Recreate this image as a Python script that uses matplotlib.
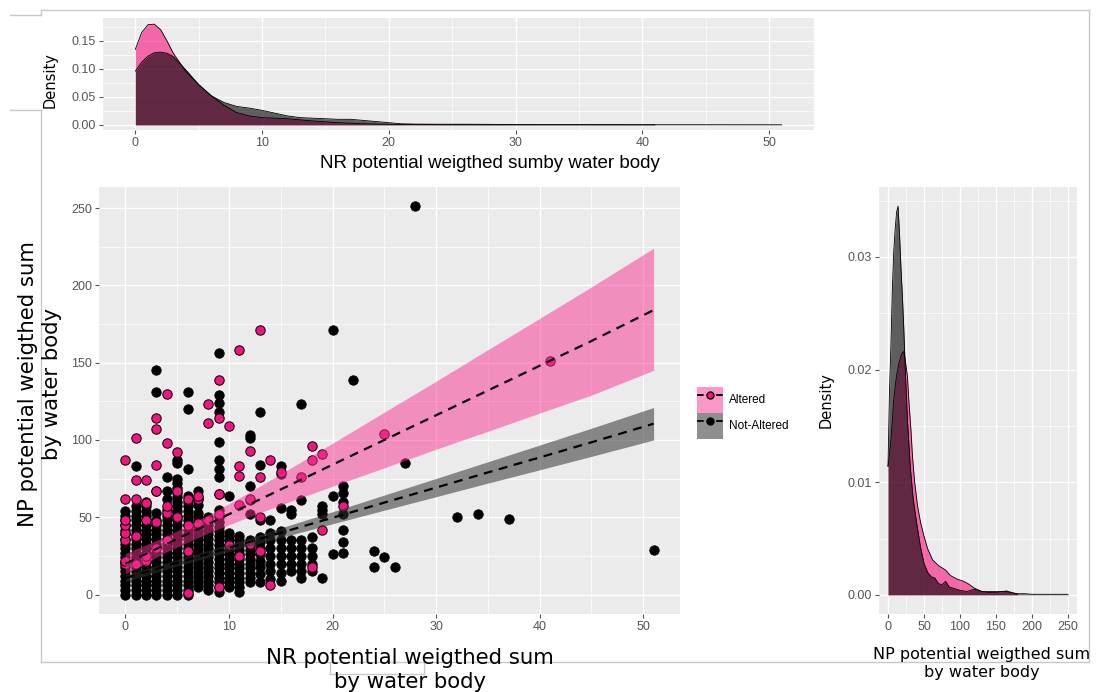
import matplotlib
matplotlib.use('Agg')
import matplotlib.pyplot as plt
from matplotlib.lines import Line2D
from matplotlib.patches import Patch
from matplotlib.legend_handler import HandlerTuple
from matplotlib.ticker import MultipleLocator, FormatStrFormatter

plt.rcParams['font.family'] = ['Liberation Sans', 'DejaVu Sans']

# scatter: x value -> list of y values
not_altered = {
    0: [0, 3, 6, 9, 12, 15, 18, 21, 24, 27, 30, 33, 36, 39, 42, 45, 48, 51, 54],
    1: [0, 3, 6, 9, 12, 15, 18, 21, 24, 27, 30, 33, 36, 39, 42, 45, 48, 51, 54, 57, 83],
    2: [0, 3, 6, 9, 12, 15, 18, 21, 24, 27, 30, 33, 36, 39, 42, 45, 48, 51, 54, 57, 60],
    3: [0, 3, 6, 9, 12, 15, 18, 21, 24, 27, 30, 33, 36, 39, 42, 45, 48, 53, 67, 131, 145],
    4: [0, 3, 6, 9, 12, 15, 18, 21, 24, 27, 30, 33, 36, 39, 42, 45, 48, 51, 55, 62, 67, 76],
    5: [0, 3, 6, 9, 12, 15, 18, 21, 24, 27, 30, 33, 36, 39, 42, 45, 48, 51, 54, 57, 60, 63, 66, 69, 72, 75, 85, 87],
    6: [0, 3, 6, 9, 12, 15, 18, 21, 24, 27, 30, 33, 36, 39, 42, 45, 48, 51, 54, 57, 60, 64, 81, 120, 131],
    7: [5, 8, 11, 14, 17, 20, 23, 26, 29, 32, 35, 38, 41, 44, 47, 50, 53, 58, 62, 67],
    8: [3, 6, 9, 12, 15, 18, 21, 24, 27, 30, 33, 36, 39, 42, 45, 50],
    9: [2, 5, 8, 11, 14, 17, 20, 23, 26, 29, 32, 35, 38, 41, 44, 47, 50, 55, 65, 76, 81, 87, 99, 118, 124, 129, 156],
    10: [5, 8, 11, 14, 17, 20, 23, 26, 29, 32, 35, 38, 40, 64],
    11: [2, 5, 8, 11, 14, 17, 20, 23, 26, 29, 32, 35, 38],
    12: [8, 11, 14, 17, 20, 23, 26, 29, 32, 35, 52, 61, 70, 101, 103],
    13: [8, 13, 18, 22, 26, 30, 34, 37, 48, 84, 118],
    14: [10, 15, 20, 25, 30, 35, 40, 48],
    15: [9, 14, 20, 25, 30, 35, 41, 56, 78, 83],
    16: [15, 20, 25, 30, 35, 52, 55],
    17: [11, 15, 20, 25, 30, 35, 61, 123],
    18: [15, 20, 25, 30, 37],
    19: [11, 52, 55, 57],
    20: [26, 64, 171],
    21: [27, 34, 42, 52, 60, 66, 70],
    22: [139],
    24: [18, 28],
    25: [24],
    26: [18],
    27: [85],
    28: [251],
    32: [50],
    34: [52],
    37: [49],
    51: [29],
}
altered = {
    0: [20, 22, 35, 40, 45, 48, 62, 87],
    1: [20, 38, 62, 74, 101],
    2: [22, 25, 48, 59, 74],
    3: [30, 47, 67, 84, 107, 114],
    4: [35, 53, 57, 98, 130],
    5: [50, 67, 92],
    6: [1, 28, 45, 62],
    7: [46, 62, 64],
    8: [48, 111, 123],
    9: [5, 52, 65, 114, 139],
    10: [32, 109],
    11: [25, 58, 77, 83, 158],
    12: [33, 62, 93],
    13: [28, 50, 76, 171],
    14: [6, 87],
    15: [79],
    17: [76],
    18: [18, 87, 96],
    19: [42, 91],
    21: [57],
    25: [104],
    41: [151],
}

# fitted lines with confidence bands
alt_fit_x = [0, 4, 8, 12, 16, 20, 25, 30, 35, 40, 45, 51]
alt_fit_y = [20, 32.8, 45.6, 58.4, 71.2, 84, 100, 116, 132, 148, 164, 184]
alt_fit_lo = [13.4, 27.7, 39.8, 50.5, 60.4, 70.1, 82, 94, 105.6, 117.4, 129, 145]
alt_fit_hi = [26.6, 37.9, 51.4, 66.3, 82.0, 97.9, 118, 138, 158.4, 178.6, 199, 224]
na_fit_x = [0, 5, 10, 15, 20, 25, 30, 35, 40, 45, 51]
na_fit_y = [10.7, 20.5, 30.2, 40, 49.7, 59.5, 69.2, 79, 88.7, 98.5, 110.5]
na_fit_lo = [8.3, 18.5, 27.8, 36.9, 45.8, 54.6, 63.3, 72.1, 80.7, 89.4, 100]
na_fit_hi = [13.1, 22.5, 32.6, 43.1, 53.6, 64.4, 75.1, 85.9, 96.7, 107.6, 121]

# density of NR (top)
nr_alt_x = [0, 0.5, 1, 1.5, 2, 2.5, 3, 4, 5, 6, 7, 8, 9, 10, 11, 12, 13, 14, 16, 18, 20, 22, 25, 30, 35, 41]
nr_alt_d = [.135, .165, .179, .180, .170, .150, .128, .095, .072, .052, .035, .022, .016, .013, .012,
            .011, .009, .007, .004, .002, .001, .0005, .0003, .0002, .0002, .0001]
nr_na_x = [0, 0.5, 1, 1.5, 2, 2.5, 3, 4, 5, 6, 7, 8, 9, 10, 11, 12, 13, 14, 15, 16, 17, 18, 19, 20,
           21, 22, 24, 26, 28, 30, 35, 40, 45, 51]
nr_na_d = [.096, .112, .123, .129, .130, .128, .122, .098, .072, .052, .040, .033, .030, .026, .021,
           .016, .013, .012, .011, .010, .010, .008, .006, .004, .002, .0015, .0012, .0012, .001,
           .0005, .0004, .0003, .0003, .0002]

# density of NP (right), in 1/1000
np_alt_x = [0, 2, 4, 6, 8, 10, 12, 15, 18, 20, 22, 24, 27, 29, 32, 34, 37, 41, 45, 50, 55, 62, 70,
            80, 87, 96, 105, 111, 120, 130, 140, 150, 160, 170, 180]
np_alt_d = [11.4, 12.5, 13.7, 15.5, 17.3, 18.5, 19.5, 20.5, 21.2, 21.5, 21.6, 20.8, 19.4, 17.2, 14.5,
            12.3, 10, 7.9, 6.5, 5.2, 4.1, 3.1, 2.6, 2.2, 1.7, 1.4, 1.2, 1.0, 0.6, 0.3, 0.3, 0.3, 0.3,
            0.25, 0.05]
np_na_x = [0, 2, 4, 6, 8, 10, 12, 14, 16, 18, 20, 22, 24, 27, 31, 35, 40, 45, 50, 55, 60, 65, 70,
           75, 80, 85, 90, 100, 110, 120, 130, 140, 150, 160, 165, 170, 180, 190, 200, 225, 250]
np_na_d = [11.4, 18, 22, 27, 30.5, 32.5, 34, 34.5, 32, 29, 26.5, 23.5, 20, 15.5, 11.3, 8.5, 6.3,
           4.3, 2.8, 2.0, 1.6, 1.5, 1.0, 0.9, 1.2, 0.7, 0.6, 0.4, 0.3, 0.5, 0.3, 0.2, 0.2, 0.3, 0.35,
           0.2, 0.1, 0.1, 0.05, 0.05, 0.05]
np_alt_d = [v / 1000 for v in np_alt_d]
np_na_d = [v / 1000 for v in np_na_d]

PINK_PT = '#f0157f'
PINK_BAND = '#f93393'
PINK_DENS = '#fa0d7b'

W, H = 1096, 692
fig = plt.figure(figsize=(W / 100, H / 100), dpi=100)


def px_axes(l, t, r, b):
    return fig.add_axes([l / W, 1 - b / H, (r - l) / W, (b - t) / H])


def gg_style(ax, xmaj, xmin, ymaj, ymin):
    ax.set_facecolor('#ebebeb')
    for s in ax.spines.values():
        s.set_visible(False)
    ax.xaxis.set_major_locator(MultipleLocator(xmaj))
    ax.xaxis.set_minor_locator(MultipleLocator(xmin))
    ax.yaxis.set_major_locator(MultipleLocator(ymaj))
    ax.yaxis.set_minor_locator(MultipleLocator(ymin))
    ax.grid(which='major', color='white', lw=1.0)
    ax.grid(which='minor', color='white', lw=0.5)
    ax.set_axisbelow(True)
    ax.tick_params(which='major', length=3, width=0.8, color='#555555',
                   labelsize=9, labelcolor='#555555', pad=2)
    ax.tick_params(which='minor', length=0)


def ftext(x, y, s, **kw):
    fig.text(x / W, 1 - y / H, s, ha='center', va='center', **kw)


# main scatter
ax = px_axes(99, 187, 680, 614)
gg_style(ax, 10, 5, 50, 25)
na_x = [x for x, ys in not_altered.items() for _ in ys]
na_y = [y for ys in not_altered.values() for y in ys]
al_x = [x for x, ys in altered.items() for _ in ys]
al_y = [y for ys in altered.values() for y in ys]
ax.scatter(na_x, na_y, s=46, c='black', edgecolors='black', linewidths=0.6, zorder=2)
ax.scatter(al_x, al_y, s=46, c=PINK_PT, edgecolors='black', linewidths=0.7, zorder=3)
ax.fill_between(alt_fit_x, alt_fit_lo, alt_fit_hi, color=PINK_BAND, alpha=0.5, lw=0, zorder=4)
ax.fill_between(na_fit_x, na_fit_lo, na_fit_hi, color='#333333', alpha=0.55, lw=0, zorder=4)
ax.plot(alt_fit_x, alt_fit_y, color='black', ls=(0, (4, 3)), lw=1.6, zorder=5)
ax.plot(na_fit_x, na_fit_y, color='black', ls=(0, (4, 3)), lw=1.6, zorder=5)
ax.set_xlim(-2.55, 53.55)
ax.set_ylim(-12.55, 263.6)

# top density
axt = px_axes(103, 18, 814, 130)
gg_style(axt, 10, 5, 0.05, 0.025)
axt.fill_between(nr_alt_x, 0, nr_alt_d, color=PINK_DENS, alpha=0.6, lw=0)
axt.plot(nr_alt_x, nr_alt_d, color='black', lw=0.6)
axt.fill_between(nr_na_x, 0, nr_na_d, color='black', alpha=0.6, lw=0)
axt.plot(nr_na_x, nr_na_d, color='black', lw=0.6)
axt.set_xlim(-2.55, 53.55)
axt.set_ylim(-0.0091, 0.191)
axt.yaxis.set_major_formatter(FormatStrFormatter('%.2f'))

# right density
axr = px_axes(879, 187, 1077, 614)
gg_style(axr, 50, 25, 0.01, 0.005)
axr.fill_between(np_alt_x, 0, np_alt_d, color=PINK_DENS, alpha=0.6, lw=0)
axr.plot(np_alt_x, np_alt_d, color='black', lw=0.6)
axr.fill_between(np_na_x, 0, np_na_d, color='black', alpha=0.6, lw=0)
axr.plot(np_na_x, np_na_d, color='black', lw=0.6)
axr.set_xlim(-12.5, 262.5)
axr.set_ylim(-0.0017, 0.0362)
axr.yaxis.set_major_formatter(FormatStrFormatter('%.2f'))

# legend
handles = [
    (Patch(fc=PINK_BAND, alpha=0.5, ec='none'),
     Line2D([], [], color='black', ls='--', lw=1.3, marker='o', ms=5, mfc=PINK_PT, mec='black')),
    (Patch(fc='#333333', alpha=0.55, ec='none'),
     Line2D([], [], color='black', ls='--', lw=1.3, marker='o', ms=5, mfc='black', mec='black')),
]
fig.legend(handles, ['Altered', 'Not-Altered'],
           handler_map={tuple: HandlerTuple(ndivide=1, pad=0)},
           loc='upper left', bbox_to_anchor=(697 / W, 1 - 387 / H), frameon=False,
           handlelength=2.2, handleheight=3.0, fontsize=8.5, labelspacing=0.0,
           handletextpad=0.5, borderpad=0, borderaxespad=0)

# axis titles
ftext(50, 80, 'Density', rotation=90, fontsize=10.5, family='DejaVu Sans')
ftext(490, 163, 'NR potential weigthed sumby water body', fontsize=13.5)
ftext(40, 384, 'NP potential weigthed sum\nby water body', rotation=90, fontsize=15.3,
      family='DejaVu Sans', linespacing=1.2)
ftext(410, 670, 'NR potential weigthed sum\nby water body', fontsize=15.3,
      family='DejaVu Sans', linespacing=1.2)
ftext(826, 400, 'Density', rotation=90, fontsize=10.5, family='DejaVu Sans')
ftext(982, 664, 'NP potential weigthed sum\nby water body', fontsize=11.5,
      family='DejaVu Sans', linespacing=1.25)

# frame lines of the composed figure
frame = [
    ((41, 10), (1089, 10)), ((1089, 10), (1089, 662)), ((41, 662), (1089, 662)),
    ((41, 10), (41, 15)), ((41, 110), (41, 662)), ((10, 15), (41, 15)), ((10, 110), (41, 110)),
    ((330, 662), (330, 674)), ((330, 674), (424, 674)), ((424, 662), (424, 674)),
]
for (x0, y0), (x1, y1) in frame:
    fig.add_artist(Line2D([x0 / W, x1 / W], [1 - y0 / H, 1 - y1 / H], transform=fig.transFigure,
                          color='#c8c8c8', lw=1.0, zorder=0))

fig.savefig('out.png', dpi=100, facecolor='white')
